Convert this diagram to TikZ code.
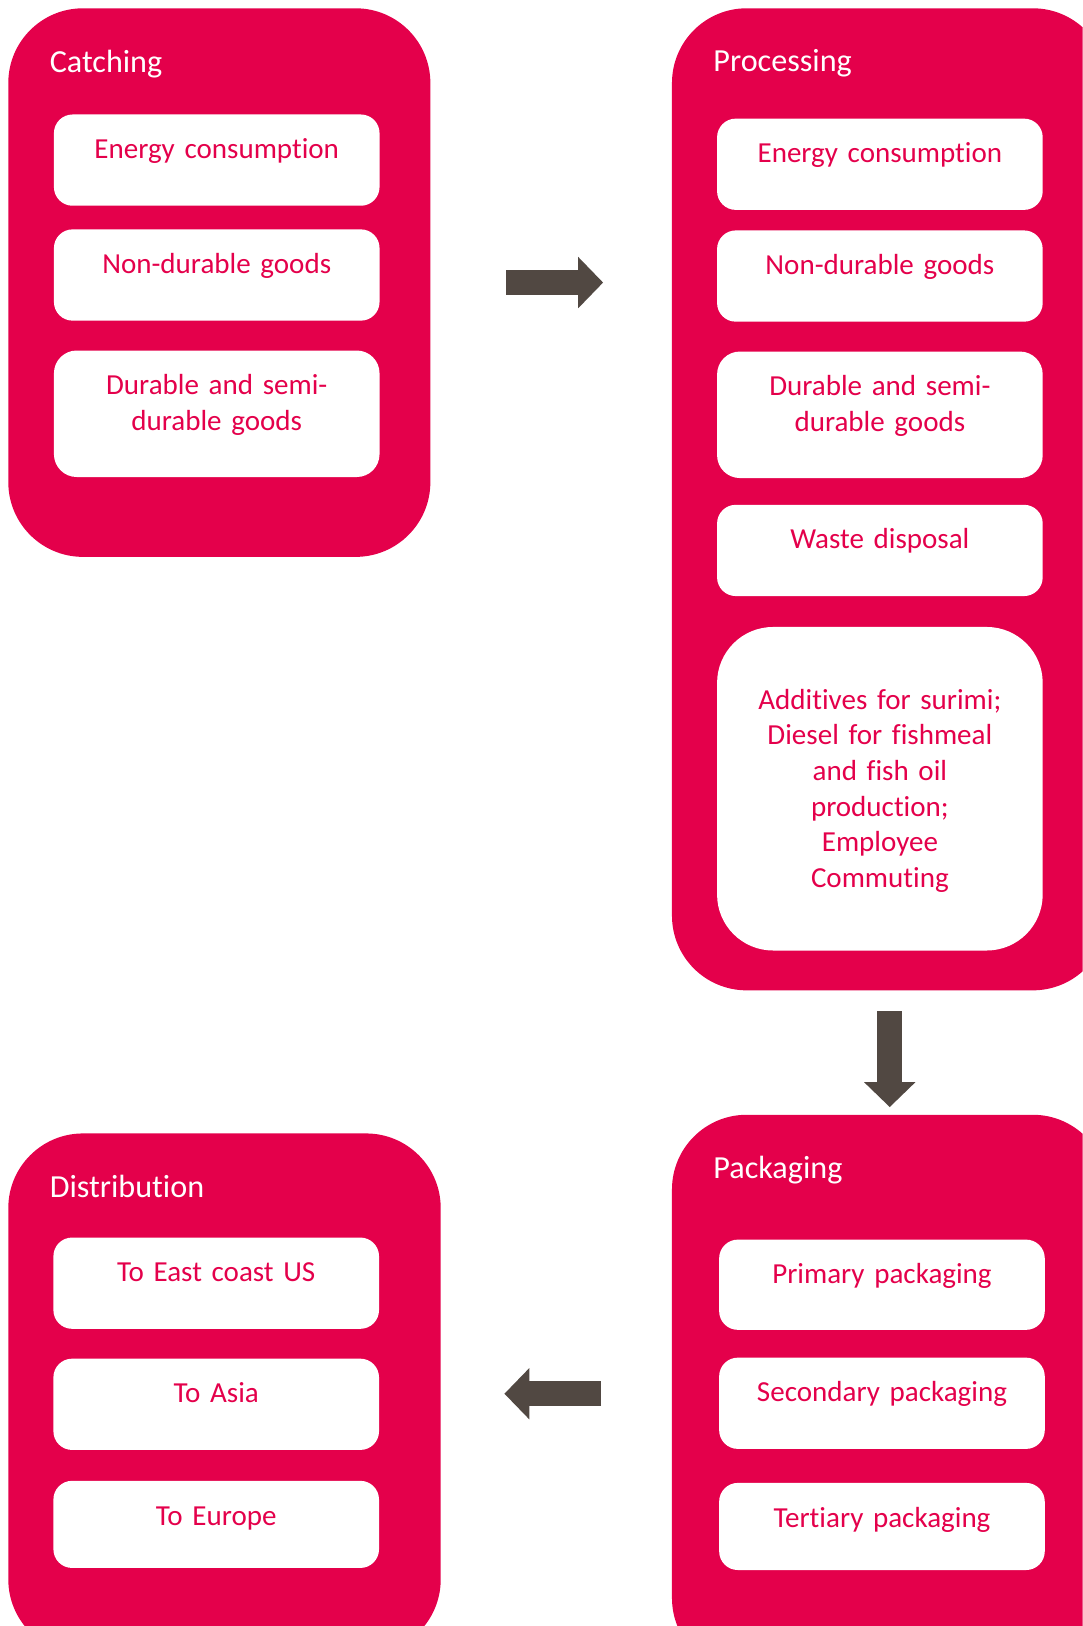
\documentclass[tikz,border=0pt]{standalone}
\usepackage{xcolor}
\usepackage{fontspec}
\setmainfont{Carlito}[Ligatures=NoCommon]
\usepackage{tikz}
\usetikzlibrary{positioning, arrows.meta, calc}
\definecolor{fishred}{HTML}{E4004B}
\definecolor{arrowbrown}{HTML}{514842}

\tikzset{
    stage/.style={fill=fishred, rounded corners=36pt, inner sep=0pt},
    stagetitle/.style={anchor=base west, inner sep=0pt, text=white,
          font=\fontsize{15.5}{18}\selectfont},
    tile/.style={fill=white, rounded corners=#1, inner sep=0pt,
          minimum width=157pt, anchor=north},
    tile/.default=9pt,
    tiletext/.style={anchor=base, inner sep=0pt, text=fishred, align=center,
          text width=150pt, font=\fontsize{14}{17.2}\selectfont},
    flow/.style={draw=arrowbrown, line width=12pt,
          -{Triangle[width=24pt, length=12pt]}}
}

\begin{document}
\begin{tikzpicture}[x=0.5pt, y=-0.5pt]
    \useasboundingbox (0,0) rectangle (1044,1568);
    \clip (0,0) rectangle (1044,1568);

    \node[stage, minimum width=203.5pt, minimum height=264.5pt] (catch) at (211.5,272.5) {};
    \node[stage, minimum width=210pt, minimum height=473.5pt] (proc) at (858,481.5) {};
    \node[stage, minimum width=210pt, minimum height=269pt] (pack) at (858,1344) {};
    \node[stage, minimum width=208.5pt, minimum height=251pt] (dist) at (216.5,1344) {};

    \node[stagetitle] (catchT) at ([xshift=20pt, yshift=-31pt]catch.north west) {Catching};
    \node[stagetitle] (procT) at ([xshift=20pt, yshift=-30.5pt]proc.north west) {Processing};
    \node[stagetitle] (packT) at ([xshift=20pt, yshift=-31pt]pack.north west) {Packaging};
    \node[stagetitle] (distT) at ([xshift=20pt, yshift=-31pt]dist.north west) {Distribution};

    \node[tile, minimum height=44pt] (c1) at (209,110) {};
    \node[tile, minimum height=44pt, below=11pt of c1] (c2) {};
    \node[tile=11pt, minimum height=61pt, below=14pt of c2] (c3) {};
    \node[tiletext] (c1t) at ([yshift=-21.5pt]c1.north) {Energy consumption};
    \node[tiletext] (c2t) at ([yshift=-21.5pt]c2.north) {Non-durable goods};
    \node[tiletext] (c3t) at ([yshift=-21.5pt]c3.north) {Durable and semi-\\durable goods};

    \node[tile, minimum height=44pt] (p1) at (848.5,114) {};
    \node[tile, minimum height=44pt, below=9.5pt of p1] (p2) {};
    \node[tile=11pt, minimum height=61pt, below=14pt of p2] (p3) {};
    \node[tile, minimum height=44pt, below=12.5pt of p3] (p4) {};
    \node[tile=27pt, minimum height=156pt, below=14.5pt of p4] (p5) {};
    \node[tiletext] (p1t) at ([yshift=-21.5pt]p1.north) {Energy consumption};
    \node[tiletext] (p2t) at ([yshift=-21.5pt]p2.north) {Non-durable goods};
    \node[tiletext] (p3t) at ([yshift=-21.5pt]p3.north) {Durable and semi-\\durable goods};
    \node[tiletext] (p4t) at ([yshift=-21.5pt]p4.north) {Waste disposal};
    \node[tiletext, anchor=center] (p5t) at ([yshift=-1pt]p5.center)
        {Additives for surimi;\\Diesel for fishmeal\\and fish oil\\production;\\Employee\\Commuting};

    \node[tile, minimum height=43.5pt] (k1) at (850.5,1195) {};
    \node[tile, minimum height=44pt, below=13pt of k1] (k2) {};
    \node[tile, minimum height=42pt, below=16pt of k2] (k3) {};
    \node[tiletext] (k1t) at ([yshift=-21.5pt]k1.north) {Primary packaging};
    \node[tiletext] (k2t) at ([yshift=-21.5pt]k2.north) {Secondary packaging};
    \node[tiletext] (k3t) at ([yshift=-21.5pt]k3.north) {Tertiary packaging};

    \node[tile, minimum height=44pt] (d1) at (208.5,1193) {};
    \node[tile, minimum height=44pt, below=14pt of d1] (d2) {};
    \node[tile, minimum height=42pt, below=14.5pt of d2] (d3) {};
    \node[tiletext] (d1t) at ([yshift=-21.5pt]d1.north) {To East coast US};
    \node[tiletext] (d2t) at ([yshift=-21.5pt]d2.north) {To Asia};
    \node[tiletext] (d3t) at ([yshift=-21.5pt]d3.north) {To Europe};

    \draw[flow, shorten <=36.5pt, shorten >=33pt] (catch.east) -- (catch.east -| proc.west);
    \draw[flow, shorten <=10pt, shorten >=3.5pt] (proc.south) -- (pack.north);
    \draw[flow, shorten <=34pt, shorten >=30.5pt] (pack.west) -- (pack.west -| dist.east);
\end{tikzpicture}
\end{document}
